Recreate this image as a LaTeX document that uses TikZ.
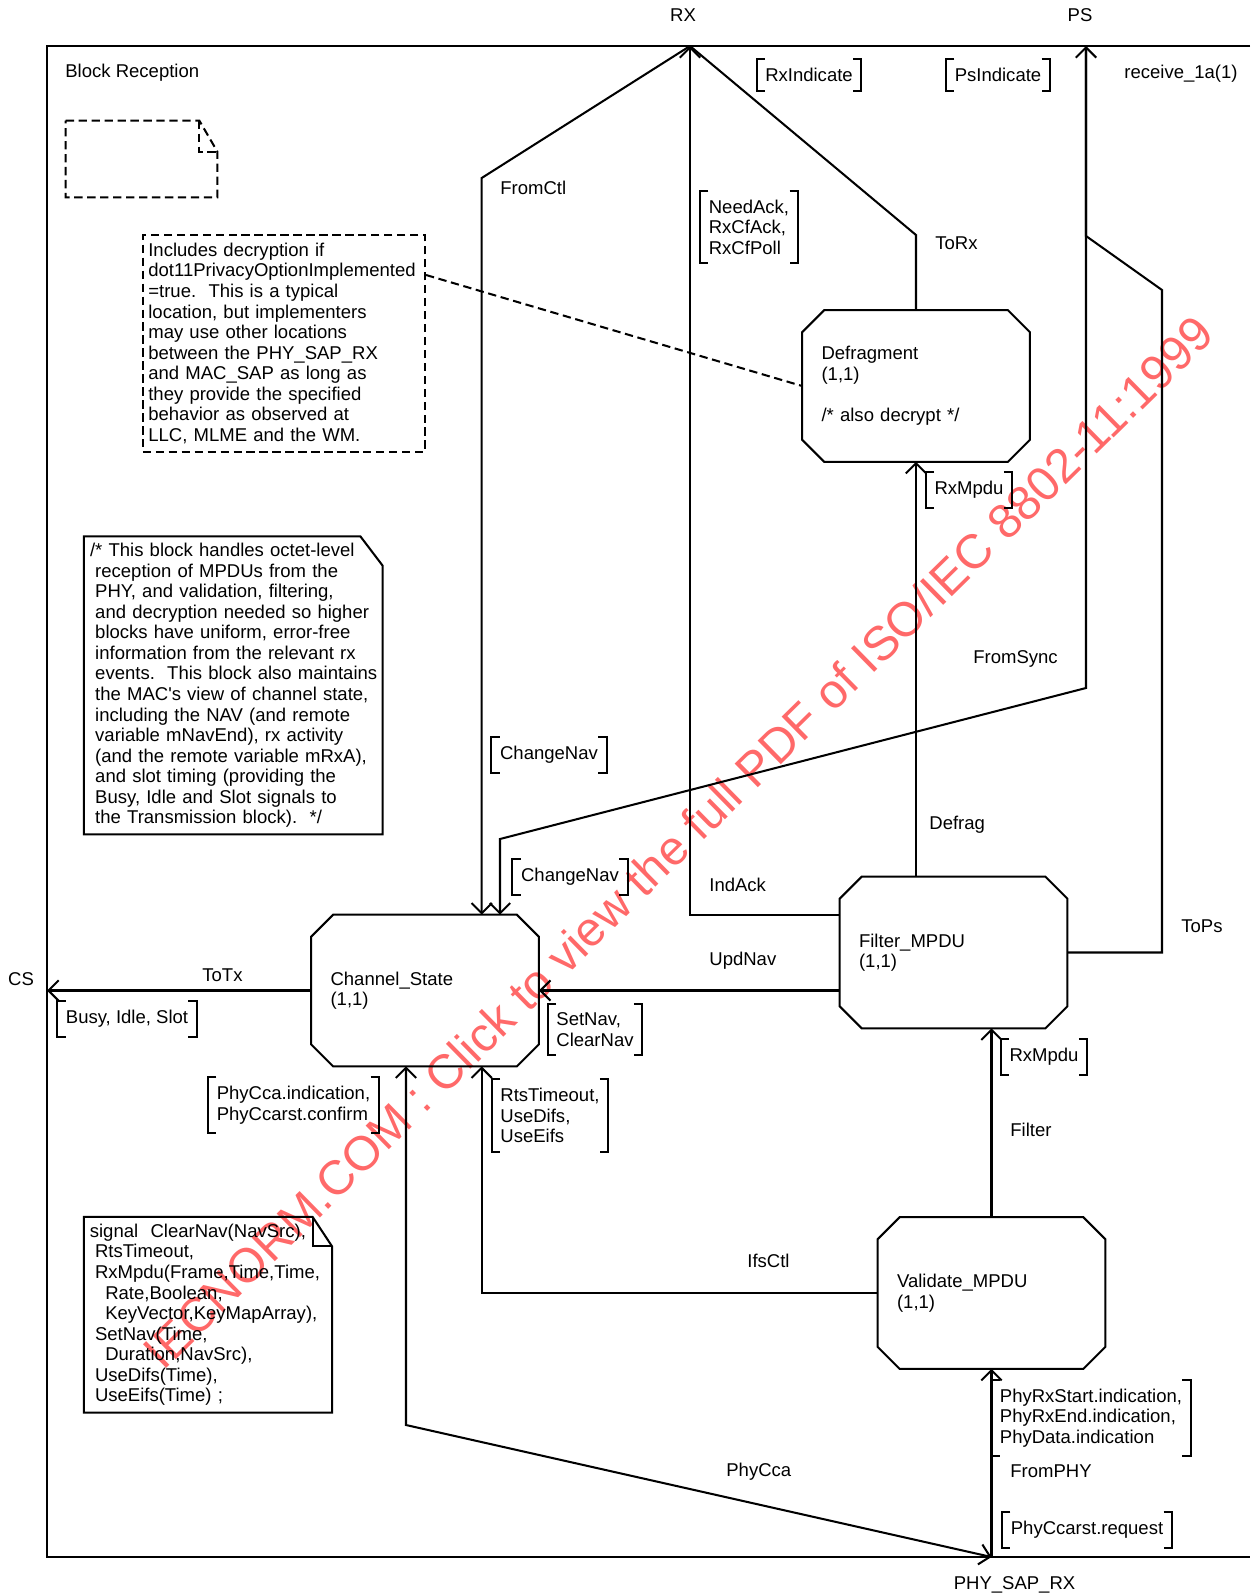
\documentclass[tikz,border=0pt]{standalone}
\usepackage{fontspec}
\setmainfont{Liberation Sans}
\usetikzlibrary{arrows.meta}

\newcommand\sdlsp{\hspace*{.278em}}
\newcommand\sigbrackets[1]{%
  \draw[wire] ([xshift=4.5pt]#1.north west) -| (#1.south west) -- ++(4.5pt,0);
  \draw[wire] ([xshift=-4.5pt]#1.north east) -| (#1.south east) -- ++(-4.5pt,0);}
\newcommand\sdlnote[4][]{%
  \draw[wire, #1] (#2.north west) -- ([xshift=-#3]#2.north east) -- ([yshift=-#4]#2.north east) -- (#2.south east) -- (#2.south west) -- cycle;}
\newcommand\sdlfold[4][]{%
  \draw[wire, #1] ([xshift=-#3]#2.north east) |- ([yshift=-#4]#2.north east);}

\begin{document}
\begin{tikzpicture}[
                x=0.54pt, y=-0.54pt,
                font=\fontsize{10}{11.1}\selectfont,
                    wire/.style = {line width=1.1pt},
                    chan/.style = {wire, -{Straight Barb[length=5.5pt, width=11pt]}},
                    bichan/.style = {wire, {Straight Barb[length=5.5pt, width=11pt]}-{Straight Barb[length=5.5pt, width=11pt]}},
                    dashline/.style = {line width=1.1pt, dash pattern=on 4.5pt off 2.5pt},
                    block/.style = {minimum width=122.6pt, minimum height=81.5pt, text width=102pt, inner xsep=10.3pt, inner ysep=0pt, align=left},
                    siglist/.style = {inner xsep=4.5pt, inner ysep=4.7pt, align=left},
                    lbl/.style = {inner sep=0pt, text height=7.2pt, text depth=0pt},
                    note/.style = {inner xsep=3pt, inner ysep=0pt, align=left},
                    wmark/.style = {text={rgb,255:red,255;green,105;blue,105}, font=\fontsize{26}{26}\selectfont}
                ]

                \useasboundingbox (0,0) rectangle (1250,1595);

                \node[wmark, rotate=44.5] (wm) at (678,842) {IECNORM.COM : Click to view the full PDF of ISO/IEC 8802-11:1999};

                \draw[wire] (1250,46) -- (47,46) -- (47,1557) -- (1250,1557);
                \coordinate (rx) at (690,46);
                \coordinate (ps) at (1086,46);
                \coordinate (cs) at (47,990.5);
                \coordinate (physap) at (991.5,1557);

                \node[lbl] (rxlbl) at (683,15) {RX};
                \node[lbl] (pslbl) at (1080,15) {PS};
                \node[lbl] (cslbl) at (21,979) {CS};
                \node[lbl] (saplbl) at (1014.5,1583) {PHY\_SAP\_RX};
                \node[lbl, anchor=west] (title) at (65,71) {Block Reception};
                \node[lbl] (chanid) at (1181,72) {receive\_1a(1)};

                \node[minimum width=81.5pt, minimum height=41pt, inner sep=0pt] (emptynote) at (141.5,159) {};
                \sdlnote[dashline]{emptynote}{9.7pt}{16.7pt}
                \sdlfold[dashline]{emptynote}{9.7pt}{16.7pt}

                \node[note, draw, dashline, minimum width=152.4pt, minimum height=117pt, text width=146.4pt] (decrnote) at (283.9,343.4) {Includes decryption if\\dot11PrivacyOptionImplemented\\=true.\ \ This is a typical\\location, but implementers\\may use other locations\\between the PHY\_SAP\_RX\\and MAC\_SAP as long as\\they provide the specified\\behavior as observed at\\LLC, MLME and the WM.};

                \node[note, minimum width=160.9pt, minimum height=160.5pt, text width=154.7pt] (blocknote) at (233.3,685.4) {/* This block handles octet-level\\\sdlsp reception of MPDUs from the\\\sdlsp PHY, and validation, filtering,\\\sdlsp and decryption needed so higher\\\sdlsp blocks have uniform, error-free\\\sdlsp information from the relevant rx\\\sdlsp\mbox{events.\ \ This block also maintains}\\\sdlsp the MAC\textquotesingle s view of channel state,\\\sdlsp including the NAV (and remote\\\sdlsp variable mNavEnd), rx activity\\\sdlsp (and the remote variable mRxA),\\\sdlsp and slot timing (providing the\\\sdlsp Busy, Idle and Slot signals to\\\sdlsp the Transmission block).\ \ */};
                \sdlnote{blocknote}{12pt}{15.8pt}

                \node[note, minimum width=133.6pt, minimum height=105.3pt, text width=127.6pt] (signote) at (208,1314.8) {signal\ \ ClearNav(NavSrc),\\\sdlsp RtsTimeout,\\\sdlsp RxMpdu(Frame,Time,Time,\\\sdlsp\sdlsp\sdlsp Rate,Boolean,\\\sdlsp\sdlsp\sdlsp KeyVector,KeyMapArray),\\\sdlsp SetNav(Time,\\\sdlsp\sdlsp\sdlsp Duration,NavSrc),\\\sdlsp UseDifs(Time),\\\sdlsp UseEifs(Time) ;};
                \sdlnote{signote}{10.5pt}{15.9pt}
                \sdlfold{signote}{10.5pt}{15.9pt}

                \node[block] (defrag) at (916,386) {Defragment\\(1,1)\\[11.1pt]/* also decrypt */};
                \node[block] (chanstate) at (425,990.5) {Channel\_State\\(1,1)};
                \node[block] (filter) at (953.5,952.5) {Filter\_MPDU\\(1,1)};
                \node[block] (validate) at (991.5,1293) {Validate\_MPDU\\(1,1)};
                \foreach \b in {defrag, chanstate, filter, validate}
                    \draw[wire] ([xshift=11.9pt]\b.north west) -- ([xshift=-11.9pt]\b.north east) -- ([yshift=-11.9pt]\b.north east) -- ([yshift=11.9pt]\b.south east) -- ([xshift=-11.9pt]\b.south east) -- ([xshift=11.9pt]\b.south west) -- ([yshift=11.9pt]\b.south west) -- ([yshift=-11.9pt]\b.north west) -- cycle;

                \node[siglist] (rxind) at (809,75) {RxIndicate};
                \node[siglist] (psind) at (998,75) {PsIndicate};
                \node[siglist] (needack) at (749,227) {NeedAck,\\RxCfAck,\\RxCfPoll};
                \node[siglist] (rxmpduup) at (969,490) {RxMpdu};
                \node[siglist] (ctlnav) at (549,755) {ChangeNav};
                \node[siglist] (syncnav) at (570,877) {ChangeNav};
                \node[siglist] (setnav) at (595,1029.5) {SetNav,\\ClearNav};
                \node[siglist] (busy) at (127,1019) {Busy, Idle, Slot};
                \node[siglist] (ccaind) at (293.5,1105) {PhyCca.indication,\\PhyCcarst.confirm};
                \node[siglist] (rtsto) at (550,1115.5) {RtsTimeout,\\UseDifs,\\UseEifs};
                \node[siglist] (rxmpdudown) at (1044,1057) {RxMpdu};
                \node[siglist] (phyrx) at (1091,1418) {PhyRxStart.indication,\\PhyRxEnd.indication,\\PhyData.indication};
                \node[siglist] (ccareq) at (1087,1530) {PhyCcarst.request};
                \foreach \s in {rxind, psind, needack, rxmpduup, ctlnav, syncnav, setnav, busy, ccaind, rtsto, rxmpdudown, phyrx, ccareq}
                    {\sigbrackets{\s}}

                \node[lbl, anchor=west] (fromctl) at (500,188) {FromCtl};
                \node[lbl, anchor=west] (torx) at (935,243) {ToRx};
                \node[lbl, anchor=west] (fromsync) at (973,657) {FromSync};
                \node[lbl, anchor=west] (defraglbl) at (929,823) {Defrag};
                \node[lbl, anchor=west] (indack) at (709,885) {IndAck};
                \node[lbl, anchor=west] (tops) at (1181,926) {ToPs};
                \node[lbl, anchor=west] (updnav) at (709,959) {UpdNav};
                \node[lbl, anchor=west] (totx) at (202,975) {ToTx};
                \node[lbl, anchor=west] (filterlbl) at (1010,1130) {Filter};
                \node[lbl, anchor=west] (ifsctl) at (747,1261) {IfsCtl};
                \node[lbl, anchor=west] (phycca) at (726,1470) {PhyCca};
                \node[lbl, anchor=west] (fromphy) at (1010,1471) {FromPHY};

                \draw[chan] (rx) -- (481.7,178) -- (481.7,0 |- chanstate.north);
                \draw[chan] (filter.west |- 0,915) -- (690,915) -- (rx);
                \draw[wire] (defrag.north) -- (defrag.north |- 0,235) -- (rx);
                \draw[chan] (filter.east) -- (1162,0 |- filter.east) -- (1162,290) -- (1086,236) -- (ps);
                \draw[chan] (ps) -- (1086,688) -- (500,839) -- (500,0 |- chanstate.north);
                \draw[chan] (filter.west |- 0,990.5) -- (chanstate.east);
                \draw[chan] (chanstate.west) -- (cs);
                \draw[chan] (filter.north -| defrag.south) -- (defrag.south);
                \draw[chan] (validate.north) -- (validate.north |- filter.south);
                \draw[chan] (validate.west) -- (481.7,0 |- validate.west) -- (481.7,0 |- chanstate.south);
                \draw[chan] (physap) -- (validate.south);
                \draw[bichan] (physap) -- (406,1425) -- (406,0 |- chanstate.south);
                \draw[dashline] (decrnote.east |- 0,275) -- (defrag.west);

            \end{tikzpicture}
\end{document}
